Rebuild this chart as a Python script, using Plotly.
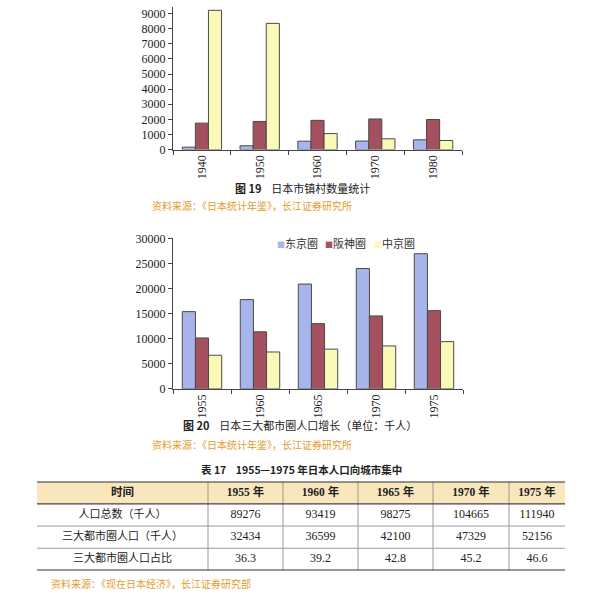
import plotly.graph_objects as go

W, H = 610, 597

# ---- 图19 日本市镇村数量统计 ----
years_19 = ["1940", "1950", "1960", "1970", "1980"]
cities = [160, 254, 556, 564, 646]
towns = [1750, 1862, 1935, 2027, 1991]
villages = [9220, 8357, 1060, 714, 601]

# ---- 图20 日本三大都市圈人口增长 (千人) ----
years_20 = ["1955", "1960", "1965", "1970", "1975"]
tokyo = [15400, 17800, 20900, 24000, 26950]
hanshin = [10150, 11370, 13000, 14550, 15600]
chukyo = [6700, 7350, 7920, 8560, 9420]
region_names = ["东京圈", "阪神圈", "中京圈"]

# ---- 表17 ----
table_header = ["时间", "1955 年", "1960 年", "1965 年", "1970 年", "1975 年"]
row_labels = ["人口总数（千人）", "三大都市圈人口（千人）", "三大都市圈人口占比"]
total_pop = [89276, 93419, 98275, 104665, 111940]
metro_pop = [32434, 36599, 42100, 47329, 52156]
metro_share = [36.3, 39.2, 42.8, 45.2, 46.6]

colors = ["#a8b4ec", "#a5505f", "#fbf9b8"]
edge = "#4a4a4a"
serif = "Liberation Serif, Noto Sans CJK SC"
cjk = "Noto Sans CJK SC"
orange = "#e39b2e"


def px_x(x):
    return x / W


def px_y(y):
    return 1 - y / H


fig = go.Figure()

for vals, c in zip([cities, towns, villages], colors):
    fig.add_trace(go.Bar(x=years_19, y=vals, marker=dict(color=c, line=dict(color=edge, width=1)),
                         showlegend=False, xaxis="x", yaxis="y"))

for vals, c, n in zip([tokyo, hanshin, chukyo], colors, region_names):
    fig.add_trace(go.Bar(x=years_20, y=vals, name=n, marker=dict(color=c, line=dict(color=edge, width=1)),
                         showlegend=False, xaxis="x2", yaxis="y2"))

# ---- table drawn on its own hidden axes (x in px across table, y in rows) ----
col_edges = [0, 171, 246, 321, 396, 472, 528]
col_mid = [(a + b) / 2 for a, b in zip(col_edges[:-1], col_edges[1:])]
body = [[str(v) for v in total_pop],
        [str(v) for v in metro_pop],
        [f"{v:.1f}" for v in metro_share]]

fig.add_trace(go.Scatter(x=col_mid, y=[3.5] * len(col_mid), mode="text",
                         text=[f"<b>{h}</b>" for h in table_header],
                         textfont=dict(family=serif, size=11.5, color="#222"),
                         hoverinfo="skip", showlegend=False, xaxis="x3", yaxis="y3"))
for r in range(3):
    fig.add_trace(go.Scatter(x=col_mid[:1], y=[2.5 - r], mode="text", text=[row_labels[r]],
                             textfont=dict(family=cjk, size=11, color="#222"),
                             hoverinfo="skip", showlegend=False, xaxis="x3", yaxis="y3"))
    fig.add_trace(go.Scatter(x=col_mid[1:], y=[2.5 - r] * 5, mode="text", text=body[r],
                             textfont=dict(family=serif, size=12, color="#222"),
                             hoverinfo="skip", showlegend=False, xaxis="x3", yaxis="y3"))

# header fill
fig.add_shape(type="rect", xref="x3", yref="y3", x0=0, x1=528, y0=3, y1=4,
              fillcolor="#f8e6bc", line_width=0, layer="below")
# vertical separators
for e in col_edges[1:-1]:
    fig.add_shape(type="line", xref="x3", yref="y3", x0=e, x1=e, y0=0, y1=4,
                  line=dict(color="#9a9a9a", width=1))
# row separators and rules
for yv, col, w in [(1, "#9a9a9a", 1), (2, "#9a9a9a", 1), (3, "#444", 1.2), (0, "#333", 2), (4, "#333", 2)]:
    fig.add_shape(type="line", xref="x3", yref="y3", x0=0, x1=528, y0=yv, y1=yv,
                  line=dict(color=col, width=w))

axis_common = dict(showline=True, linecolor="#444", linewidth=1, ticks="outside", ticklen=4,
                   tickcolor="#444", showgrid=False, zeroline=False,
                   tickfont=dict(family=serif, size=12, color="#222"))

fig.update_layout(
    width=W, height=H, margin=dict(l=0, r=0, t=0, b=0),
    paper_bgcolor="white", plot_bgcolor="white",
    barmode="group", bargap=0.32, bargroupgap=0,
    xaxis=dict(domain=[px_x(173), px_x(462)], anchor="y", tickangle=-90, tickson="boundaries",
               type="category", **axis_common),
    yaxis=dict(domain=[px_y(146), 1.0], anchor="x", range=[0, 9440], dtick=1000,
               tickformat="d", **axis_common),
    xaxis2=dict(domain=[px_x(173), px_x(463)], anchor="y2", tickangle=-90, tickson="boundaries",
                type="category", **axis_common),
    yaxis2=dict(domain=[px_y(391), px_y(237)], anchor="x2", range=[0, 30000], dtick=5000,
                tickformat="d", **axis_common),
    xaxis3=dict(domain=[px_x(37), px_x(565)], anchor="y3", range=[0, 528], visible=False,
                fixedrange=True),
    yaxis3=dict(domain=[px_y(577), px_y(486)], anchor="x3", range=[0, 4], visible=False,
                fixedrange=True),
)

ann = []


def note(text, x, y, size=11, color="#222", family=cjk, xanchor="center"):
    ann.append(dict(text=text, x=px_x(x), y=px_y(y), xref="paper", yref="paper", showarrow=False,
                    xanchor=xanchor, yanchor="middle", font=dict(family=family, size=size, color=color)))


sp = "\u00a0" * 4
note(f"<b>图 19</b>{sp}日本市镇村数量统计", 302, 185)
note("资料来源：《日本统计年鉴》，长江证券研究所", 150, 203, size=10, color=orange, xanchor="left")
note(f"<b>图 20</b>{sp}日本三大都市圈人口增长（单位：千人）", 300, 428)
note("资料来源：《日本统计年鉴》，长江证券研究所", 150, 448, size=10, color=orange, xanchor="left")
note(f"<b>表 17{sp}1955—1975 年日本人口向城市集中</b>", 301, 474, size=10.5)
note("资料来源：《现在日本经济》，长江证券研究部", 49, 590, size=10, color=orange, xanchor="left")

legend_x = [275, 323, 372]
for name, c, lx in zip(region_names, colors, legend_x):
    note(f"<span style='font-size:8px;color:{c}'>■</span>{name}", lx, 242, size=11,
         color="#333", xanchor="left")

fig.update_layout(annotations=ann)

fig.write_html("out.html", config={"displayModeBar": False},
               post_script="document.body.style.margin='0';")
